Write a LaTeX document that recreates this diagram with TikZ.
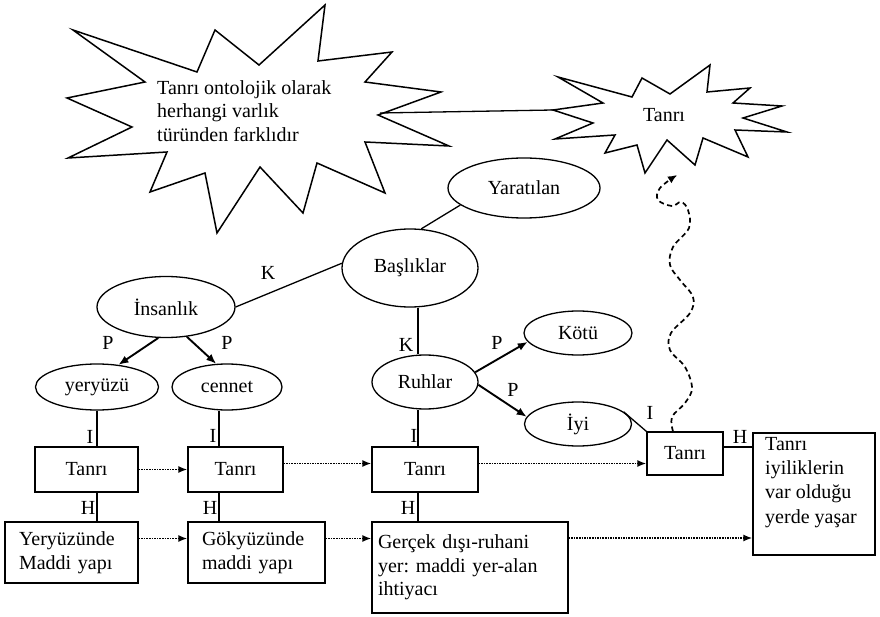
\documentclass[tikz,border=0pt]{standalone}
\usepackage{fontspec}
\setmainfont{Liberation Serif}
\usetikzlibrary{arrows.meta,shapes.geometric}
\frenchspacing
\begin{document}
\begin{tikzpicture}[x=1pt,y=-1pt,
  every node/.style={font=\fontsize{20}{23.5}\selectfont},
  ell/.style={draw, ellipse, inner sep=0pt, line width=1.3pt},
  box/.style={draw, rectangle, inner sep=0pt, line width=1.3pt},
  lbl/.style={inner sep=0pt},
  link/.style={line width=1.3pt},
  parr/.style={line width=1.9pt, -{Latex[length=10pt,width=8pt]}},
  darr/.style={dash pattern=on 1.6pt off 1pt, line width=1.6pt, -{Latex[length=9pt,width=7pt]}},
  starline/.style={line width=1.5pt, line join=miter},
  wavy/.style={dash pattern=on 5pt off 3.5pt, line width=1.7pt, -{Latex[length=9pt,width=8pt]}}
]
\useasboundingbox (0,0) rectangle (880,617);

% stars
\draw[starline] (73,30) -- (197,72) -- (215,30) -- (259,65) -- (325,5) -- (318,61) -- (392,52) -- (365,82) -- (441,92) -- (378,115) -- (449,146) -- (365,142) -- (385,193) -- (317,163) -- (303,213) -- (260,167) -- (217,233) -- (205,173) -- (150,192) -- (167,152) -- (68,158) -- (132,127) -- (67,98) -- (145,82) -- cycle;
\draw[starline] (558,77) -- (632,97) -- (642,78) -- (670,94) -- (710,65) -- (707,92) -- (750,88) -- (733,103) -- (782,106) -- (743,118) -- (787,132) -- (735,130) -- (748,157) -- (703,138) -- (695,165) -- (667,140) -- (645,173) -- (637,145) -- (605,153) -- (615,135) -- (555,139) -- (593,123) -- (553,110) -- (603,103) -- cycle;
\node[lbl, anchor=west, align=left] (lt) at (157,111) {Tanrı ontolojik olarak\\herhangi varlık\\türünden farklıdır};
\node[lbl] (tt) at (664,115) {Tanrı};
\coordinate (lsv) at (380,113);
\coordinate (tsv) at (553,110);
\draw[link] (lsv) -- (tsv);

% ellipses
\node[ell, minimum width=152pt, minimum height=60pt] (yar) at (524,188) {Yaratılan};
\node[ell, minimum width=136pt, minimum height=78pt] (bas) at (410,268) {Başlıklar};
\node[ell, minimum width=138pt, minimum height=61pt] (ins) at (166,307) {İnsanlık};
\node[ell, minimum width=123pt, minimum height=46pt] (yer) at (97,387) {yeryüzü};
\node[ell, minimum width=110pt, minimum height=46pt] (cen) at (227,387) {cennet};
\node[ell, minimum width=106pt, minimum height=54pt] (ruh) at (425,382) {Ruhlar};
\node[ell, minimum width=108pt, minimum height=44pt] (kot) at (578,333) {Kötü};
\node[ell, minimum width=107pt, minimum height=44pt] (iyi) at (578,424) {İyi};

% boxes
\node[box, minimum width=103pt, minimum height=45pt] (t1) at (86.5,469.5) {Tanrı};
\node[box, minimum width=95pt, minimum height=45pt] (t2) at (235.5,469.5) {Tanrı};
\node[box, minimum width=106pt, minimum height=45pt] (t3) at (425,469.5) {Tanrı};
\node[box, minimum width=76pt, minimum height=43pt] (t4) at (685,453.5) {Tanrı};
\node[box, minimum height=61pt, text width=105pt, inner xsep=14pt, align=left] (yb) at (71.5,552.5) {Yeryüzünde\\Maddi yapı};
\node[box, minimum height=61pt, text width=109pt, inner xsep=14pt, align=left] (gkb) at (256.5,552.5) {Gökyüzünde\\maddi yapı};
\node[box, minimum height=91pt, text width=184pt, inner xsep=6pt, align=left] (rb) at (470,567.5) {Gerçek dışı-ruhani\\yer: maddi yer-alan\\ihtiyacı};
\node[box, minimum width=122pt, minimum height=122pt] (tb) at (814,494) {};
\node[lbl, anchor=north west, align=left, font=\fontsize{20}{24.3}\selectfont] (tbt) at (765,437) {Tanrı\\iyiliklerin\\var olduğu\\yerde yaşar};

% solid links
\draw[link] (ins.east) -- (bas.176);
\draw[link] (bas.74) -- (yar.195);
\draw[link] ([xshift=8pt]bas.south) -- ([xshift=8pt]bas.south |- ruh.north);
\draw[link] ([xshift=-7pt]ruh.south) -- ([xshift=-7pt]ruh.south |- t3.north);
\draw[link] ([xshift=-7pt]ruh.south |- t3.south) -- ([xshift=-7pt]ruh.south |- rb.north);
\draw[link] (yer.south) -- (yer.south |- t1.north);
\draw[link] (yer.south |- t1.south) -- (yer.south |- yb.north);
\draw[link] ([xshift=-8pt]cen.south) -- ([xshift=-8pt]cen.south |- t2.north);
\draw[link] ([xshift=-8pt]cen.south |- t2.south) -- ([xshift=-8pt]cen.south |- gkb.north);
\draw[link] (iyi.15) -- (t4.north west);
\draw[link] ([yshift=6.5pt]t4.east) -- ([yshift=6.5pt]t4.east -| tb.west);

% P arrows
\draw[parr] (ins.256) -- (yer.46);
\draw[parr] (ins.305) -- (cen.115);
\draw[parr] (ruh.11) -- (kot.190);
\draw[parr] (ruh.-3) -- (iyi.172);

% dotted arrows
\draw[darr] (t1) -- (t2);
\draw[darr] ([yshift=6pt]t2.east) -- ([yshift=6pt]t2.east -| t3.west);
\draw[darr] ([yshift=6pt]t3.east) -- ([yshift=6pt]t3.east -| t4.west);
\draw[darr] ([yshift=14pt]yb.east) -- ([yshift=14pt]yb.east -| gkb.west);
\draw[darr] ([yshift=14pt]gkb.east) -- ([yshift=14pt]gkb.east -| rb.west);
\draw[darr] ([yshift=29.5pt]rb.east) -- ([yshift=29.5pt]rb.east -| tb.west);

% wavy dashed arrow
\coordinate (dtail) at ([xshift=-12pt]t4.north);
\coordinate (dtip) at (677,175);
\draw[wavy] plot[smooth, tension=0.6] coordinates {(dtail) (672,417) (685,403) (692,388) (685,367) (670,350) (671,333) (690,313) (693,297) (680,280) (670,265) (673,247) (689,228) (688,210) (681,202) (672,206) (658,200) (660,188) (dtip)};

% labels
\node[lbl] (k1) at (268,273) {K};
\node[lbl] (k2) at (406,345) {K};
\node[lbl] (p1) at (108,343) {P};
\node[lbl] (p2) at (227,343) {P};
\node[lbl] (p3) at (497,343) {P};
\node[lbl] (p4) at (513,390) {P};
\node[lbl] (i1) at (90,437) {I};
\node[lbl] (h1) at (88,508) {H};
\node[lbl] (i2) at (213,436) {I};
\node[lbl] (h2) at (210,508) {H};
\node[lbl] (i3) at (414,436) {I};
\node[lbl] (h3) at (408,508) {H};
\node[lbl] (i4) at (650,413) {I};
\node[lbl] (h4) at (740,437) {H};
\end{tikzpicture}
\end{document}
